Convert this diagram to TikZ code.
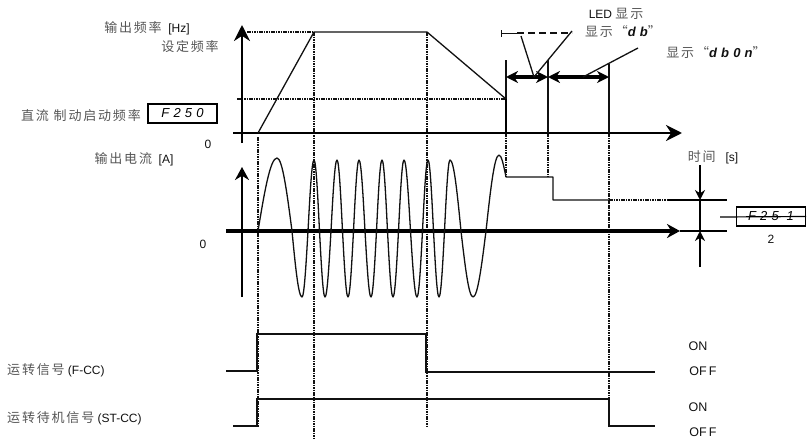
\documentclass[tikz,border=0pt]{standalone}
\usepackage{fontspec}
\setmainfont{Liberation Sans}
\newfontfamily\cjk[LetterSpace=14]{Noto Sans CJK SC}
\newfontfamily\seg[LetterSpace=32]{Liberation Sans}
\usepackage{tikz}
\usetikzlibrary{arrows.meta,positioning}
\definecolor{zhgray}{HTML}{555555}
\definecolor{ink}{HTML}{111111}
\newcommand{\zhtext}[1]{{\cjk\fontsize{13}{15}\selectfont\color{zhgray}#1}}

\begin{document}
\begin{tikzpicture}[
    x=1pt, y=-1pt,
    font=\fontsize{12}{14}\selectfont,
    axis/.style={line width=#1, -{Stealth[length=16pt,width=16pt]}},
    caxis/.style={line width=#1, -{Stealth[length=13pt,width=14pt]}},
    guide/.style={line width=2pt, color=ink, dash pattern=on 1.5pt off 0.9pt},
    trace/.style={line width=1.3pt, color=ink},
    span/.style={line width=3.5pt, {Stealth[length=12pt,width=12pt]}-{Stealth[length=12pt,width=12pt]}},
    gauge/.style={line width=2.6pt, -{Stealth[length=10pt,width=10pt]}},
    lbl/.style={inner sep=0pt, text=ink},
    segbox/.style={draw, line width=1.2pt, minimum width=#1, minimum height=19pt, inner sep=0pt, font=\seg\itshape\fontsize{13}{13}\selectfont},
]
\useasboundingbox (0,0) rectangle (807,439);

% --- Key points ---
\coordinate (fO) at (242,133);
\coordinate (fTop) at (242,25);
\coordinate (fEnd) at (682,133);
\coordinate (fL) at (233,133);
\coordinate (fBot) at (242,143);
\coordinate (accStart) at (258,133);
\coordinate (accEnd) at (314,32);
\coordinate (decStart) at (427,32);
\coordinate (decEnd) at (506,99);
\coordinate (dcOff) at (506,133);
\coordinate (tA) at (506,60);
\coordinate (tB) at (548,60);
\coordinate (tBb) at (548,133);
\coordinate (tC) at (609,64);
\coordinate (tCb) at (609,133);
\coordinate (spA) at (506,77);
\coordinate (spB) at (548,77);
\coordinate (spC) at (609,77);

\coordinate (iO) at (242,231);
\coordinate (iTop) at (242,167);
\coordinate (iBot) at (242,297);
\coordinate (iL) at (226,231);
\coordinate (iEnd) at (680,231);

% --- Labels, frequency graph ---
\node[lbl] (freqLbl) at (147,28) {\zhtext{输出频率}\ \ [Hz]};
\node[lbl] (setLbl) at (190,47) {\zhtext{设定频率}};
\node[lbl, anchor=east] (dcLbl) at (141,116) {\zhtext{直流 制动启动频率}};
\node[segbox=69pt] (f250) at (182.5,113.5) {F250};
\node[lbl] (zeroF) at (208,144) {0};
\node[lbl] (ledLbl) at (616,14) {LED \zhtext{显示}};
\node[lbl] (dbLbl) at (623,32) {\zhtext{显示“}{\seg\bfseries\itshape\fontsize{13}{13}\selectfont db}\zhtext{”}};
\node[lbl] (dbonLbl) at (716,53) {\zhtext{显示“}{\seg\bfseries\itshape\fontsize{13}{13}\selectfont db0n}\zhtext{”}};

% --- Labels, current graph ---
\node[lbl] (curLbl) at (134,159) {\zhtext{输出电流}\ \ [A]};
\node[lbl] (zeroI) at (203,244) {0};
\node[lbl] (timeLbl) at (713,157) {\zhtext{时间}\ \ \ [s]};
\node[segbox=69pt] (f251) at (771,216.5) {F25 1};
\node[lbl, below=8pt of f251] (twoLbl) {2};

% --- Labels, signals ---
\node[lbl, anchor=west] (runLbl) at (7,370) {\zhtext{运转信号}\ (F-CC)};
\node[lbl, anchor=west] (stbyLbl) at (7,418) {\zhtext{运转待机信号}\ (ST-CC)};
\node[lbl, font=\fontsize{12.5}{13}\selectfont] (on1) at (698,346) {ON};
\node[lbl, font=\fontsize{12.5}{13}\selectfont] (off1) at (703,371) {OF\,F};
\node[lbl, font=\fontsize{12.5}{13}\selectfont] (on2) at (698,407) {ON};
\node[lbl, font=\fontsize{12.5}{13}\selectfont] (off2) at (703,432) {OF\,F};

% --- Guide lines ---
\draw[guide] (247,32) -- (accEnd);
\draw[guide] (237,99) -- (decEnd);
\draw[guide] (258,137) -- (258,427);
\draw[guide] (accEnd) -- (314,439);
\draw[guide] (decStart) -- (427,426);
\draw[guide] (dcOff) -- (506,177);
\draw[guide] (tBb) -- (548,177);
\draw[guide] (tCb) -- (609,399);
\draw[guide] (609,200) -- (668,200);

% --- Frequency graph ---
\draw[axis=2.8pt] (fBot) -- (fTop);
\draw[axis=2.8pt] (fL) -- (fEnd);
\draw[trace, line join=round] (accStart) -- (accEnd) -- (decStart) -- (decEnd);
\draw[line width=2.6pt] (decEnd) -- (dcOff);
\draw[trace] (tA) -- (decEnd);
\draw[trace] (tB) -- (tBb);
\draw[trace] (tC) -- (tCb);
\draw[span] (spA) -- (spB);
\draw[span] (spB) -- (spC);

% --- LED callouts ---
\draw[trace, line width=1pt] (501,30) -- (501,37);
\draw[trace, line width=1pt] (501,33) -- (517,33);
\draw[trace, line width=1.2pt, dash pattern=on 7pt off 4pt] (517,33) -- (572,33);
\draw[trace] (534,77) -- (521,36);
\draw[trace] (534,77) -- (572,31);
\draw[trace] (583,77) -- (638,48);

% --- Current graph ---
\draw[caxis=2.4pt] (iBot) -- (iTop);
\draw[caxis=4.5pt] (iL) -- (iEnd);
\draw[trace, line join=round]
    (258,231) sin (277,158) cos (292,231) sin (302,297) cos (308,231)
    sin (314,160) cos (319.5,231) sin (325,297) cos (331,231)
    sin (337,160) cos (342.5,231) sin (348,297) cos (353.5,231)
    sin (359,160) cos (365,231) sin (371,297) cos (376.5,231)
    sin (382,160) cos (387.5,231) sin (393,297) cos (398.5,231)
    sin (404,160) cos (410.5,231) sin (417,297) cos (422.5,231)
    sin (428,160) cos (433.5,231) sin (439,297) cos (444.5,231)
    sin (450,160) cos (461,231) sin (473,297) cos (486,231)
    sin (499,155) cos (506,177)
    -- (553,177) -- (553,200) -- (609,200);
\draw[guide] (609,200) -- (609,231);

% --- Braking current gauge ---
\draw[line width=1.5pt] (668,200) -- (727,200);
\draw[line width=1.5pt] (iEnd) -- (727,231);
\draw[gauge] (700,165) -- (700,200);
\draw[gauge] (700,267) -- (700,231);
\draw[line width=1.2pt] (700,200) -- (700,231);
\draw[line width=1.2pt] (720,217) -- (f251.east);

% --- Run signals ---
\draw[trace] (226,371) -- (257,371) -- (257,334) -- (426,334) -- (426,372) -- (655,372);
\draw[trace] (233,426) -- (257,426) -- (257,399) -- (609,399) -- (609,426) -- (655,426);

\end{tikzpicture}
\end{document}
